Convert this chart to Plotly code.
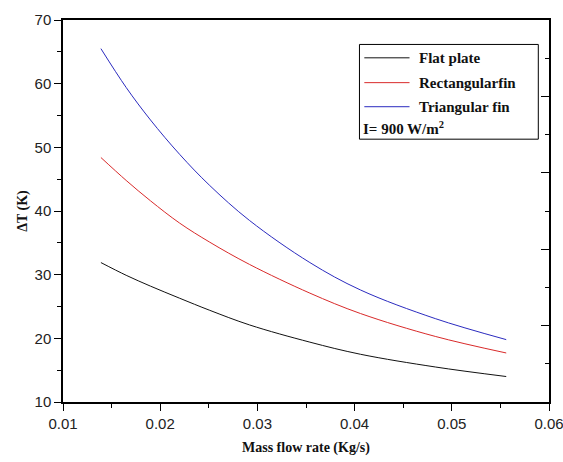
import plotly.graph_objects as go

# Data
mass_flow = [0.0139, 0.0165, 0.0190, 0.0220, 0.0251, 0.0292, 0.0354, 0.0406, 0.0483, 0.0556]
flat_plate = [31.9, 29.9, 28.2, 26.3, 24.4, 22.1, 19.4, 17.5, 15.5, 14.0]
rect_fin = [48.4, 44.8, 41.6, 38.1, 35.1, 31.6, 27.1, 23.9, 20.3, 17.7]
tri_fin = [65.5, 59.4, 54.3, 48.9, 44.0, 38.5, 31.9, 27.6, 23.1, 19.8]

series_names = ["Flat plate", "Rectangularfin", "Triangular fin"]
series_values = [flat_plate, rect_fin, tri_fin]
series_colors = ["#111111", "#d92a2a", "#2b2bbf"]

x_ticks = [0.01, 0.02, 0.03, 0.04, 0.05, 0.06]
y_ticks = [10, 20, 30, 40, 50, 60, 70]

fig = go.Figure()
for name, vals, col in zip(series_names, series_values, series_colors):
    fig.add_trace(go.Scatter(x=mass_flow, y=vals, mode="lines", name=name,
                             line=dict(color=col, width=1, shape="spline", smoothing=1.0),
                             showlegend=False))

# invisible trace to activate right axis (unlabeled inward ticks)
fig.add_trace(go.Scatter(x=[0.01], y=[0], yaxis="y2", mode="markers",
                         marker=dict(opacity=0), showlegend=False, hoverinfo="skip"))

tick_font = dict(family="Liberation Sans, Arial, sans-serif", size=15, color="#222")
title_font = dict(family="Liberation Serif, Times New Roman, serif", size=14, color="#111")

fig.update_layout(
    width=563, height=462,
    margin=dict(l=63, r=14, t=20, b=60),
    paper_bgcolor="white", plot_bgcolor="white",
    xaxis=dict(range=[0.01, 0.06], tickvals=x_ticks, ticktext=[f"{v:.2f}" for v in x_ticks],
               ticklabeloverflow="allow", automargin=False,
               ticks="outside", ticklen=7, tickwidth=1.3, tickcolor="black",
               minor=dict(dtick=0.005, ticks="outside", ticklen=4, tickwidth=1.3, tickcolor="black", tick0=0.01),
               showline=True, linecolor="black", linewidth=1.5, mirror=True,
               showgrid=False, zeroline=False, tickfont=tick_font),
    yaxis=dict(range=[10, 70], tickvals=y_ticks, automargin=False,
               ticks="outside", ticklen=7, tickwidth=1.3, tickcolor="black",
               minor=dict(dtick=5, ticks="outside", ticklen=4, tickwidth=1.3, tickcolor="black", tick0=10),
               showline=True, linecolor="black", linewidth=1.5, mirror=True,
               showgrid=False, zeroline=False, tickfont=tick_font,
               title=dict(text="<b>ΔT (K)</b>", font=title_font, standoff=4)),
    yaxis2=dict(range=[0, 10], overlaying="y", side="right", dtick=2, automargin=False,
                ticks="inside", ticklen=8, tickwidth=1.3, tickcolor="black",
                minor=dict(dtick=1, ticks="inside", ticklen=4, tickwidth=1.3, tickcolor="black"),
                showticklabels=False, showgrid=False, zeroline=False, showline=False),
)

# x-axis title placed as annotation
fig.add_annotation(xref="paper", yref="paper", x=0.5, y=-0.12, text="<b>Mass flow rate (Kg/s)</b>",
                   showarrow=False, xanchor="center", yanchor="middle", font=title_font)

# Legend box (custom, in paper coordinates)
leg_font = dict(family="Liberation Serif, Times New Roman, serif", size=15, color="#111")
fig.add_shape(type="rect", xref="paper", yref="paper", x0=0.610, x1=0.978, y0=0.688, y1=0.936,
              line=dict(color="black", width=1), fillcolor="white", layer="above")
row_y = [0.901, 0.836, 0.773]
for name, col, yy in zip(series_names, series_colors, row_y):
    fig.add_shape(type="line", xref="paper", yref="paper", x0=0.620, x1=0.713, y0=yy, y1=yy,
                  line=dict(color=col, width=1))
    fig.add_annotation(xref="paper", yref="paper", x=0.729, y=yy, text=f"<b>{name}</b>",
                       showarrow=False, xanchor="left", yanchor="middle", font=leg_font)
fig.add_annotation(xref="paper", yref="paper", x=0.613, y=0.716, text="<b>I= 900 W/m<sup>2</sup></b>",
                   showarrow=False, xanchor="left", yanchor="middle", font=leg_font)

fig.write_html("out.html")
